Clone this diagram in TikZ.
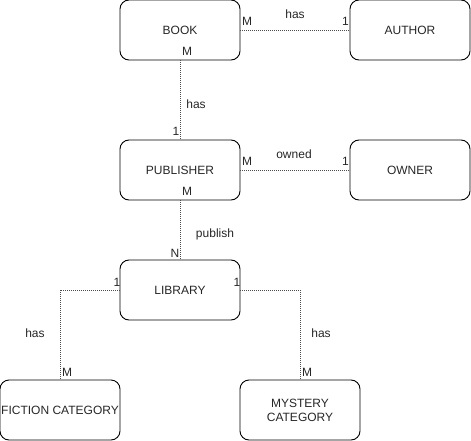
\documentclass[tikz,border=0pt]{standalone}
\usepackage{fontspec}
\setmainfont{Liberation Sans}
\usepackage{tikz}
\usetikzlibrary{arrows}
\tikzset{
	entity/.style={draw, black, line width=0.9pt, rounded corners=9pt, minimum width=120pt, minimum height=60pt, inner sep=0pt, align=center, text=black!85, font=\fontsize{12}{14}\selectfont},
	rel/.style={draw, black!70, line width=0.8pt, dash pattern=on 1pt off 1pt},
	lbl/.style={inner sep=0pt, text=black!85, font=\fontsize{12}{14}\selectfont}
}

\begin{document}
\begin{tikzpicture}[x=1pt, y=-1pt]
		\useasboundingbox (0,0) rectangle (471,441);
		
		\node [entity] (book) at (180,30) {BOOK};
		\node [entity] (author) at (410,30) {AUTHOR};
		\node [entity] (publisher) at (180,170) {PUBLISHER};
		\node [entity] (owner) at (410,170) {OWNER};
		\node [entity] (library) at (180,290) {LIBRARY};
		\node [entity] (fiction) at (60,410) {FICTION CATEGORY};
		\node [entity] (mystery) at (300,410) {MYSTERY\\CATEGORY};
		
		\draw [rel] (book.east) -- (author.west);
		\node [lbl] (hasA) at (295,14) {has};
		\node [lbl, anchor=west] (mBookA) at (242,21) {M};
		\node [lbl, anchor=east] (oneAuthor) at (349,21) {1};
		
		\draw [rel] (book.south) -- (publisher.north);
		\node [lbl] (mBookP) at (187,51) {M};
		\node [lbl] (hasP) at (196,104) {has};
		\node [lbl] (onePub) at (176,131) {1};
		
		\draw [rel] (publisher.east) -- (owner.west);
		\node [lbl] (owned) at (294,154) {owned};
		\node [lbl, anchor=west] (mPubO) at (242,161) {M};
		\node [lbl, anchor=east] (oneOwner) at (349,161) {1};
		
		\draw [rel] (publisher.south) -- (library.north);
		\node [lbl] (mPubL) at (187,191) {M};
		\node [lbl] (publish) at (215,234) {publish};
		\node [lbl] (nLib) at (175,253) {N};
		
		\draw [rel] (library.west) -| (fiction.north);
		\node [lbl] (oneLibF) at (117,282) {1};
		\node [lbl] (hasF) at (35,333) {has};
		\node [lbl] (mFiction) at (67,372) {M};
		
		\draw [rel] (library.east) -| (mystery.north);
		\node [lbl] (oneLibM) at (237,282) {1};
		\node [lbl] (hasM) at (321,333) {has};
		\node [lbl] (mMystery) at (307,372) {M};
\end{tikzpicture}
\end{document}
